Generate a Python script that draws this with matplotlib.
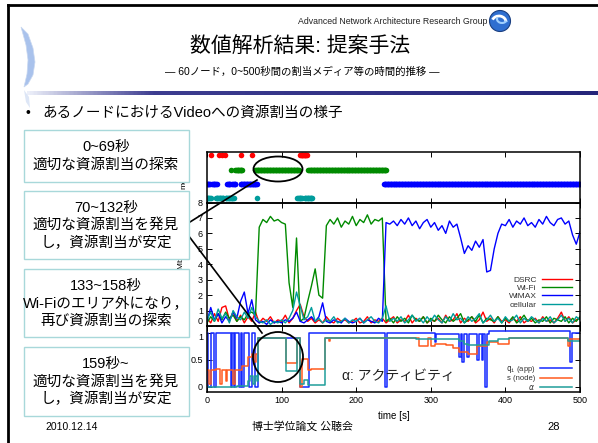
import numpy as np
import matplotlib
matplotlib.use('Agg')
import matplotlib.pyplot as plt
from matplotlib.patches import Rectangle, Ellipse, Circle, Polygon, Arc
from matplotlib.lines import Line2D
from matplotlib.transforms import Affine2D
from matplotlib.colors import LinearSegmentedColormap

plt.rcParams['font.family'] = ['Liberation Sans', 'Noto Sans CJK JP', 'DejaVu Sans']

# ---------------- data ----------------
# top panel: selected medium (seconds, as (start, end) runs)
dsrc_sel = [(5, 5), (16, 16), (20, 20), (24, 24), (45, 45), (60, 60), (125, 134)]
wifi_sel = [(32, 32), (38, 47), (65, 123), (136, 240)]
wimax_sel = [(0, 4), (7, 13), (27, 31), (34, 38), (45, 67), (237, 500)]
cell_sel = [(0, 5), (12, 22), (25, 36), (67, 67), (121, 127), (131, 141)]

# middle panel: allocated bandwidth per medium, sampled every 5 s
t_bw = np.arange(0, 501, 5)
dsrc_bw = [0.5, 0.2, 0.8, 0.3, 1.2, 1.3, 0.4, 0.9, 0.3, 0.7,
           0.2, 0.6, 0.3, 0.9, 0.2, 0.5, 0.3, 0.6, 0.2, 0.4,
           0.3, 0.7, 0.2, 0.5, 1.0, 1.4, 0.6, 0.3, 0.5, 0.2,
           0.4, 0.2, 0.6, 0.3, 0.2, 0.5, 0.3, 0.4, 0.2, 0.3,
           0.5, 0.2, 0.3, 0.6, 0.2, 0.4, 0.3, 0.5, 0.2, 0.4,
           0.6, 0.2, 0.4, 0.3, 0.7, 0.2, 0.5, 0.3, 0.6, 0.2,
           0.4, 0.3, 0.5, 0.2, 0.7, 0.3, 0.4, 0.8, 0.2, 0.5,
           0.3, 0.6, 0.2, 0.4, 0.9, 0.3, 0.5, 0.2, 0.6, 0.3,
           0.4, 0.2, 0.5, 0.3, 0.6, 0.2, 0.4, 0.3, 0.5, 0.2,
           0.6, 0.3, 0.4, 0.2, 0.5, 0.9, 0.3, 0.6, 0.2, 0.4,
           0.5]
wifi_bw = [0.2, 0.6, 0.3, 0.8, 0.4, 0.9, 0.5, 0.7, 0.3, 0.6,
           0.4, 0.8, 0.9, 0.7, 6.4, 6.9, 6.7, 7.1, 6.8, 6.9,
           6.7, 6.6, 2.8, 1.2, 5.7, 0.3, 0.5, 1.6, 2.6, 3.7,
           2.0, 1.8, 6.5, 6.9, 6.6, 7.0, 6.4, 6.8, 6.6, 7.1,
           6.5, 6.9, 6.7, 7.2, 6.6, 6.9, 6.8, 7.0, 0.3, 0.5,
           0.2, 0.6, 0.3, 0.5, 0.2, 0.7, 0.4, 0.3, 0.6, 0.2,
           0.5, 0.3, 0.7, 0.4, 0.2, 0.6, 0.3, 0.5, 0.8, 0.2,
           0.4, 0.6, 0.3, 0.7, 0.2, 0.5, 0.4, 0.3, 0.6, 0.2,
           0.5, 0.3, 0.6, 0.2, 0.4, 0.7, 0.3, 0.5, 0.2, 0.4,
           0.3, 0.6, 0.2, 0.5, 0.4, 0.3, 0.6, 0.2, 0.5, 0.3,
           0.6]
wimax_bw = [0.3, 1.2, 0.4, 0.8, 0.2, 0.6, 0.3, 0.9, 0.5, 1.6,
            2.2, 0.8, 1.7, 0.4, 0.2, 0.3, 0.1, 0.4, 0.2, 0.3,
            0.2, 0.4, 0.3, 0.5, 0.9, 0.3, 0.2, 0.4, 0.6, 0.3,
            0.6, 1.5, 0.3, 0.2, 0.4, 0.3, 0.2, 0.5, 0.3, 0.2,
            0.3, 0.5, 0.2, 0.4, 0.3, 0.2, 0.5, 0.3, 6.7, 6.6,
            6.8, 6.5, 6.9, 6.6, 7.0, 6.5, 6.8, 6.3, 6.7, 6.9,
            6.4, 6.7, 6.2, 6.5, 6.0, 6.8, 6.4, 6.6, 5.7, 4.7,
            5.2, 4.9, 5.5, 5.1, 5.6, 3.5, 3.6, 5.0, 6.0, 6.6,
            6.5, 6.9, 6.4, 6.8, 6.6, 7.0, 6.5, 6.7, 6.4, 6.9,
            6.6, 7.1, 6.7, 6.5, 6.9, 7.0, 6.6, 6.8, 5.9, 5.3,
            6.1]
cell_bw = [0.4, 0.9, 0.3, 1.1, 0.5, 0.8, 0.2, 1.0, 0.6, 0.4,
           0.9, 0.5, 1.2, 0.6, 0.3, 0.2, 0.4, 0.1, 0.3, 0.2,
           0.4, 0.2, 0.5, 1.0, 2.2, 1.3, 0.4, 0.6, 1.2, 0.3,
           0.5, 0.2, 0.4, 0.3, 0.6, 0.2, 0.3, 0.5, 0.2, 0.4,
           0.3, 0.5, 0.2, 0.4, 0.6, 0.3, 0.2, 0.5, 1.3, 0.3,
           0.5, 0.3, 0.6, 0.2, 0.4, 0.7, 0.3, 0.5, 0.2, 0.6,
           0.3, 0.7, 0.4, 0.2, 0.6, 0.3, 0.8, 0.4, 0.5, 0.2,
           0.6, 0.3, 0.5, 0.8, 0.2, 0.4, 0.7, 0.3, 0.5, 0.2,
           0.6, 0.3, 0.4, 0.7, 0.2, 0.5, 0.3, 0.6, 0.4, 0.2,
           0.5, 0.3, 0.6, 0.2, 0.4, 0.7, 0.3, 0.5, 0.2, 0.6,
           0.4]

# bottom panel: step series (change times, values)
q_t = [0, 2, 6, 9, 12, 32, 34, 36, 38, 43, 45, 47, 49, 56, 60, 65, 69,
       125, 137, 239, 241, 305, 307, 338, 340, 342, 345, 348, 351,
       362, 364, 368, 370, 372, 375, 378, 486, 489, 500]
q_v = [1.0, 0.0, 1.0, 0.0, 1.0, 0.0, 1.0, 0.0, 1.0, 0.0, 1.0, 0.0, 1.0,
       0.0, 1.0, 0.0, 0.91, 0.0, 1.0, 0.0, 1.0, 0.82, 0.98, 0.55, 0.98,
       0.45, 0.98, 0.55, 0.98, 0.5, 0.98, 0.5, 0.98, 0.0, 0.98, 1.03,
       0.45, 1.0, 1.0]
s_t = [0, 3, 5, 12, 18, 20, 25, 27, 35, 37, 47, 55, 60, 63, 66, 69, 106,
       120, 125, 128, 135, 140, 158, 163, 165, 284, 296, 300, 306, 320,
       330, 338, 350, 362, 376, 390, 405, 484, 487, 500]
s_v = [0.3, 0.05, 0.3, 0.32, 0.05, 0.3, 0.1, 0.3, 0.05, 0.3, 0.38, 0.55,
       0.6, 0.45, 0.6, 0.91, 0.44, 0.91, 0.0, 0.52, 0.3, 0.33, 0.91, 0.85,
       0.91, 0.76, 0.91, 0.76, 0.8, 0.77, 0.72, 0.65, 0.6, 0.75, 0.83,
       0.8, 0.91, 0.75, 0.88, 0.88]
a_t = [0, 40, 55, 58, 62, 64, 67, 69, 106, 120, 125, 130, 135, 158, 280,
       338, 345, 350, 378, 390, 405, 484, 500]
a_v = [0.0, 0.02, 0.1, 0.2, 0.05, 0.2, 0.1, 0.91, 0.29, 0.91, 0.05, 0.12,
       0.03, 0.91, 0.88, 0.85, 0.8, 0.77, 0.84, 0.88, 0.9, 0.85, 0.85]

x_ticks = [0, 100, 200, 300, 400, 500]
bw_ticks = [0, 1, 2, 3, 4, 5, 6, 7, 8]
frac_ticks = [0, 0.5, 1]

box_texts = [
    ("0~69秒", "適切な資源割当の探索"),
    ("70~132秒", "適切な資源割当を発見", "し，資源割当が安定"),
    ("133~158秒", "Wi-Fiのエリア外になり，", "再び資源割当の探索"),
    ("159秒~", "適切な資源割当を発見", "し，資源割当が安定"),
]

C_DSRC, C_WIFI, C_WIMAX, C_CELL = '#ff0000', '#008a00', '#0000ff', '#009c9c'
C_Q, C_S, C_A = '#1428ff', '#ff5a1e', '#1f9e9a'

# ---------------- figure ----------------
W, H = 598, 443
fig = plt.figure(figsize=(W / 100, H / 100), dpi=100)
PX = Affine2D().scale(1 / W, -1 / H).translate(0, 1) + fig.transFigure


def txt(x, y, s, **kw):
    return fig.text(x, y, s, transform=PX, **kw)


# slide frame
fig.add_artist(Line2D([8, 8], [5, 443], transform=PX, color='black', lw=2))
fig.add_artist(Line2D([8, 598], [5, 5], transform=PX, color='black', lw=2))

# header
txt(487, 21, "Advanced Network Architecture Research Group", fontsize=6.3,
    ha='right', va='center', color='#222222')
fig.add_artist(Circle((500, 21), 10.5, transform=PX, facecolor='#2f6fd0',
                      edgecolor='#1a3f80', lw=0.8))
fig.add_artist(Arc((499, 22), 14, 12, theta1=200, theta2=360, transform=PX,
                   color='white', lw=2))
fig.add_artist(Arc((502, 19), 10, 8, theta1=20, theta2=200, transform=PX,
                   color='#9fd0ff', lw=1.5))
txt(300, 46, "数値解析結果: 提案手法", fontsize=15, ha='center', va='center')
txt(302, 72, "― 60ノード，0~500秒間の割当メディア等の時間的推移 ―",
    fontsize=7.5, ha='center', va='center')

# left swoosh decoration
fig.add_artist(Polygon([(21, 27), (28, 34), (33, 48), (35, 62), (33, 75),
                        (28, 84), (24, 87), (27, 74), (28, 60), (26, 45)],
                       closed=True, transform=PX, facecolor='#a9c2ec',
                       edgecolor='#c9d8f0', lw=0.5))
fig.add_artist(Polygon([(24, 90), (29, 97), (30, 108), (26, 102)],
                       closed=True, transform=PX, facecolor='#dde6f6',
                       edgecolor='none'))

# gradient rule
ax_g = fig.add_axes([27 / W, 1 - 95 / H, (W - 27) / W, 4 / H])
cm = LinearSegmentedColormap.from_list(
    'g', [(0, '#eceff9'), (0.22, '#3d3d90'), (1, '#25257a')])
ax_g.imshow(np.linspace(0, 1, 400)[None, :], aspect='auto', cmap=cm)
ax_g.set_axis_off()

txt(25, 113, "•", fontsize=10, ha='left', va='center')
txt(42, 113, "あるノードにおけるVideoへの資源割当の様子", fontsize=10.5,
    ha='left', va='center')

# ---------------- chart axes ----------------
ax_top = fig.add_axes([207 / W, 1 - 202.5 / H, 373 / W, 50.5 / H])
ax_mid = fig.add_axes([207 / W, 1 - 326 / H, 373 / W, 123.5 / H])
ax_bot = fig.add_axes([207 / W, 1 - 392 / H, 373 / W, 66 / H])

for ax in (ax_top, ax_mid, ax_bot):
    ax.set_xlim(0, 500)
    ax.set_xticks(x_ticks)
    ax.tick_params(direction='in', top=True, right=True, length=3.5,
                   width=0.7, labelsize=6.5, pad=3)
    for sp in ax.spines.values():
        sp.set_linewidth(1.1)
    ax.patch.set_alpha(0)

# top panel: media selection
for segs, row, col in ((dsrc_sel, 4, C_DSRC), (wifi_sel, 3, C_WIFI),
                       (wimax_sel, 2, C_WIMAX), (cell_sel, 1, C_CELL)):
    tt = np.concatenate([np.arange(a, b + 1) for a, b in segs])
    ax_top.plot(tt, np.full(len(tt), row), 'o', color=col, ms=4, mec='none')
ax_top.set_ylim(0.7, 4.24)
ax_top.set_yticks([])
ax_top.tick_params(labelbottom=False)
ax_top.set_ylabel("media", fontsize=6, labelpad=14)

# middle panel: bandwidth
for vals, col, lab in ((dsrc_bw, C_DSRC, 'DSRC'), (wifi_bw, C_WIFI, 'Wi-Fi'),
                       (wimax_bw, C_WIMAX, 'WiMAX'), (cell_bw, C_CELL, 'cellular')):
    ax_mid.plot(t_bw, vals, color=col, lw=1.0, label=lab)
ax_mid.set_ylim(0, 8)
ax_mid.set_yticks(bw_ticks)
ax_mid.tick_params(labelbottom=False)
for lbl in ax_mid.get_yticklabels():
    if lbl.get_text() == '0':
        lbl.set_va('bottom')
ax_mid.set_ylabel(r"$m_i$ [Mbps]", fontsize=6, labelpad=8)
ax_mid.legend(loc='upper right', bbox_to_anchor=(0.978, 0.405), frameon=False,
              fontsize=6, markerfirst=False, handlelength=3.6,
              labelspacing=0.05, borderpad=0, borderaxespad=0,
              handletextpad=0.6, labelcolor='#333333')

# bottom panel
ax_bot.step(q_t, q_v, where='post', color=C_Q, lw=1.1, label=r"$\mathtt{q_i}$ (app)")
ax_bot.step(s_t, s_v, where='post', color=C_S, lw=1.1, label="s (node)")
ax_bot.step(a_t, a_v, where='post', color=C_A, lw=1.1, label=r"$\alpha$")
ax_bot.set_ylim(-0.1, 1.125)
ax_bot.set_yticks(frac_ticks)
ax_bot.set_yticklabels(['0', '0.5', '1'])
for lbl in ax_bot.get_yticklabels():
    if lbl.get_text() == '1':
        lbl.set_va('top')
ax_bot.set_xlabel("time [s]", fontsize=7, labelpad=4)
ax_bot.set_ylabel(r"$\alpha$, s, q", fontsize=6, labelpad=8)
ax_bot.legend(loc='upper right', bbox_to_anchor=(0.978, 0.43), frameon=False,
              fontsize=5.5, markerfirst=False, handlelength=4.2,
              labelspacing=0.05, borderpad=0, borderaxespad=0,
              handletextpad=0.6, labelcolor='#333333')
txt(342, 376, "α: アクティビティ", fontsize=10, ha='left', va='center',
    color='#222222')

# ellipses and callout lines
fig.add_artist(Ellipse((278, 169), 49, 25, transform=PX, fill=False,
                       edgecolor='black', lw=1.3, zorder=6))
fig.add_artist(Ellipse((278, 357), 50, 50, transform=PX, fill=False,
                       edgecolor='black', lw=1.3, zorder=6))
fig.add_artist(Line2D([182, 257], [227, 180], transform=PX, color='black',
                      lw=1.2, zorder=6))
fig.add_artist(Line2D([182, 262], [227, 333], transform=PX, color='black',
                      lw=1.2, zorder=6))

# left boxes
boxes = [(130, 182), (191, 259), (269, 337), (347, 416)]
for (y0, y1), lines in zip(boxes, box_texts):
    fig.add_artist(Rectangle((24, y0), 165, y1 - y0, transform=PX,
                             facecolor='white', edgecolor='#a8d8da', lw=1.0,
                             zorder=7))
    n = len(lines)
    step = 17.5
    yc = (y0 + y1) / 2
    for k, s in enumerate(lines):
        txt(106, yc + (k - (n - 1) / 2) * step, s, fontsize=10.5,
            ha='center', va='center', zorder=8)

# footer
txt(45, 427, "2010.12.14", fontsize=7.5, ha='left', va='center')
txt(302, 427, "博士学位論文 公聴会", fontsize=7.8, ha='center', va='center')
txt(554, 427, "28", fontsize=8, ha='center', va='center')

fig.savefig('out.png', dpi=100, facecolor='white')
